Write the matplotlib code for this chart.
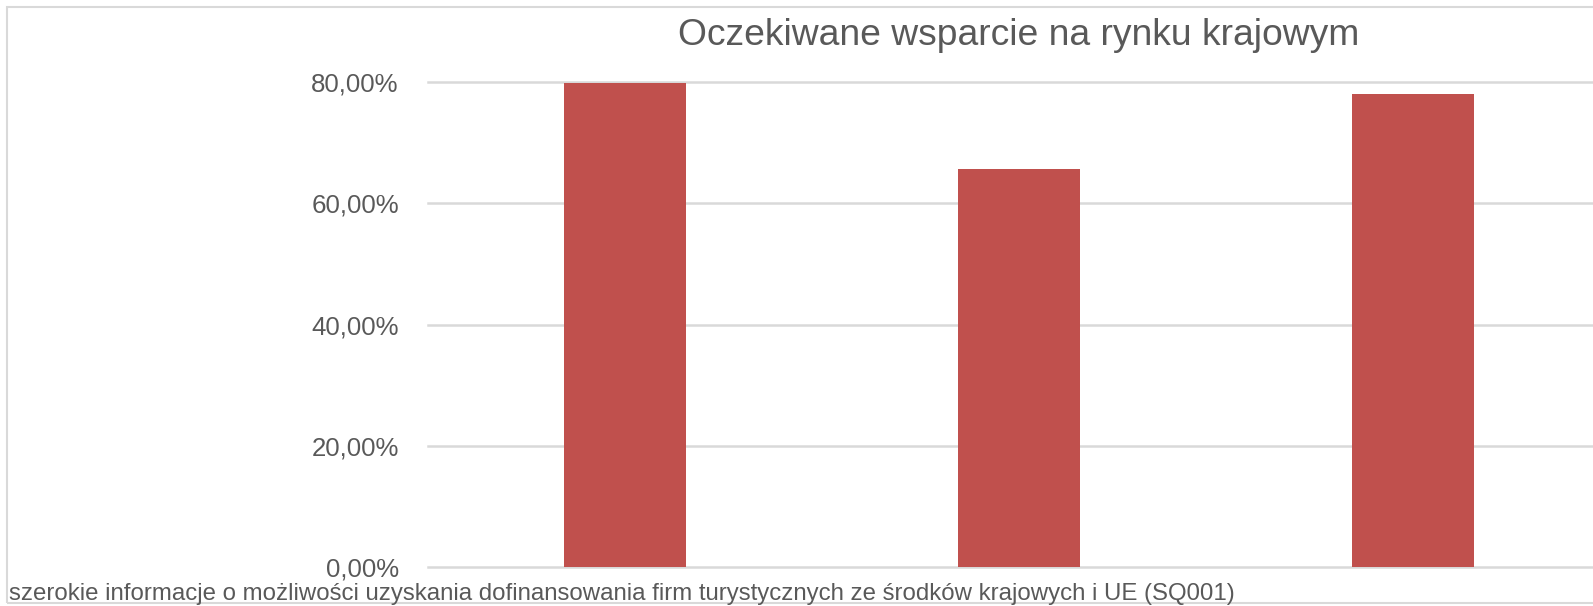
import matplotlib
matplotlib.use("Agg")
import matplotlib.pyplot as plt
from matplotlib.patches import Rectangle
from matplotlib.ticker import FuncFormatter

plt.rcParams['font.family'] = ['Liberation Sans', 'DejaVu Sans']

title = "Oczekiwane wsparcie na rynku krajowym"
category_label = ("szerokie informacje o możliwości uzyskania dofinansowania firm "
                  "turystycznych ze środków krajowych i UE (SQ001)")
positions = [0, 1, 2]
values = [0.799, 0.657, 0.781]
yticks = [0.0, 0.2, 0.4, 0.6, 0.8]

W, H = 1593, 606
fig = plt.figure(figsize=(W / 100, H / 100), dpi=100)
fig.patch.set_facecolor('white')

TXT = '#595959'
GRID = '#d9d9d9'
BAR = '#C0504D'

# axes (plot area continues slightly past the right edge, as in the reference)
left_px, right_px, top_px, bottom_px = 428, 1610, 82, 567
ax = fig.add_axes([left_px / W, (H - bottom_px) / H,
                   (right_px - left_px) / W, (bottom_px - top_px) / H])
ax.bar(positions, values, width=0.312, color=BAR, zorder=3)
ax.set_xlim(-0.5, 2.5)
ax.set_ylim(0, 0.8)
ax.set_yticks(yticks)
ax.yaxis.set_major_formatter(FuncFormatter(lambda v, p: f"{v*100:.2f}%".replace('.', ',')))
ax.set_xticks([])
ax.tick_params(axis='y', length=0, pad=21, labelsize=18.6, labelcolor=TXT)
for s in ax.spines.values():
    s.set_visible(False)
ax.set_axisbelow(True)
ax.yaxis.grid(True, color=GRID, linewidth=1.8)
for gl in ax.get_ygridlines():
    gl.set_clip_on(False)
ax.patch.set_alpha(0)

# title
fig.text(((left_px + right_px) / 2) / W, (H - 45) / H, title, ha='center',
         va='baseline', fontsize=26.8, color=TXT)

# category label along the bottom
fig.text(9 / W, (H - 600) / H, category_label, ha='left', va='baseline',
         fontsize=17.25, color=TXT)

# chart border
fig.patches.append(Rectangle((7 / W, (H - 603) / H), 1.1, (603 - 7) / H,
                             transform=fig.transFigure, fill=False,
                             edgecolor=GRID, linewidth=1.5))

fig.savefig("out.png", dpi=100)
